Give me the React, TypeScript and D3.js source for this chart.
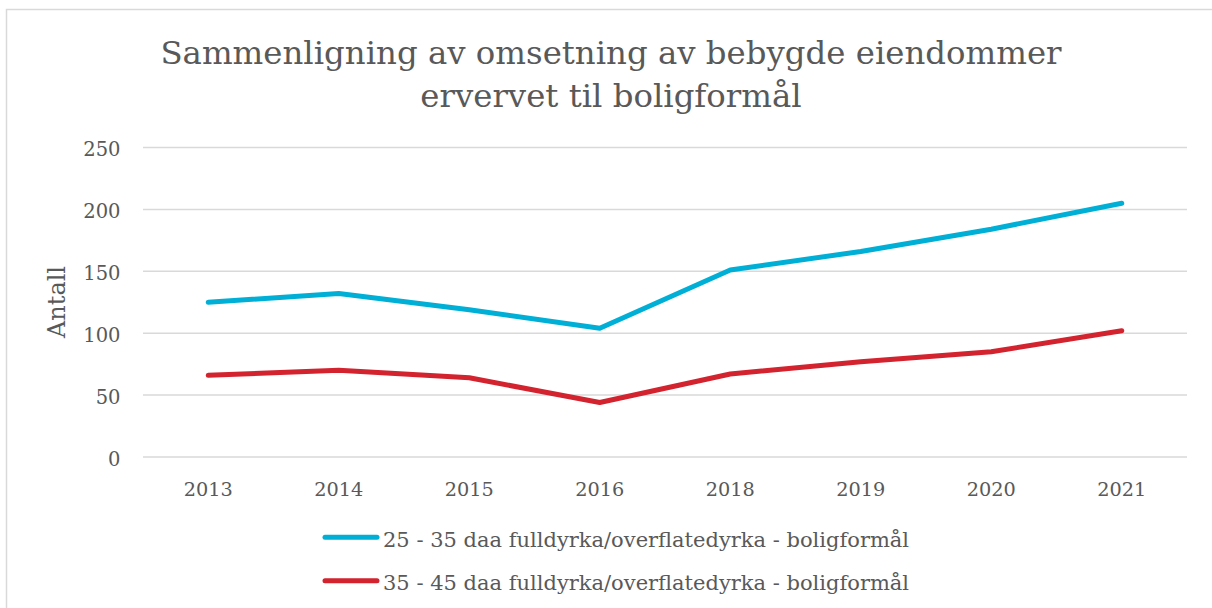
import React from "react";
import * as d3 from "d3";

const categories = ["2013", "2014", "2015", "2016", "2018", "2019", "2020", "2021"];
const series1 = [125, 132, 119, 104, 151, 166, 184, 205];
const series2 = [66, 70, 64, 44, 67, 77, 85, 102];
const seriesNames = [
  "25 - 35 daa fulldyrka/overflatedyrka - boligformål",
  "35 - 45 daa fulldyrka/overflatedyrka - boligformål",
];
const yTicks = [0, 50, 100, 150, 200, 250];
const titleLines = ["Sammenligning av omsetning av bebygde eiendommer", "ervervet til boligformål"];
const yAxisTitle = "Antall";

const W = 1212;
const H = 608;
const FONT = "'DejaVu Serif', serif";
const TEXT = "#595959";
const COLORS = ["#00AFD6", "#D2232F"];

export default function App() {
  const x = d3.scaleBand<string>().domain(categories).range([143, 1187]);
  const y = d3.scaleLinear().domain([0, 250]).range([457, 147.5]);
  const line = d3
    .line<number>()
    .x((_, i) => (x(categories[i]) as number) + x.bandwidth() / 2)
    .y((d) => y(d));
  const allSeries = [series1, series2];
  const legendY = [537.3, 580.7];

  return (
    <svg
      width={W}
      height={H}
      style={{ position: "absolute", left: 0, top: 0, background: "#fff" }}
      fontFamily={FONT}
    >
      <rect x={6.5} y={9.5} width={1220} height={620} fill="#fff" stroke="#d9d9d9" strokeWidth={1.5} />
      {titleLines.map((t, i) => (
        <text key={i} x={611} y={63.5 + i * 43} textAnchor="middle" fontSize={32.4} fill={TEXT}>
          {t}
        </text>
      ))}
      {yTicks.map((t) => (
        <g key={t}>
          <line x1={143} x2={1187} y1={y(t)} y2={y(t)} stroke="#d9d9d9" strokeWidth={1.5} />
          <text x={120.5} y={y(t) + 8.5} textAnchor="end" fontSize={19.5} fill={TEXT}>
            {t}
          </text>
        </g>
      ))}
      {categories.map((c) => (
        <text
          key={c}
          x={(x(c) as number) + x.bandwidth() / 2}
          y={496}
          textAnchor="middle"
          fontSize={19.3}
          fill={TEXT}
        >
          {c}
        </text>
      ))}
      <text
        transform={`translate(65,302) rotate(-90)`}
        textAnchor="middle"
        fontSize={24}
        fill={TEXT}
      >
        {yAxisTitle}
      </text>
      {allSeries.map((s, i) => (
        <path
          key={i}
          d={line(s) as string}
          fill="none"
          stroke={COLORS[i]}
          strokeWidth={5}
          strokeLinecap="round"
          strokeLinejoin="round"
        />
      ))}
      {seriesNames.map((n, i) => (
        <g key={n}>
          <line x1={325} x2={377} y1={legendY[i]} y2={legendY[i]} stroke={COLORS[i]} strokeWidth={5} strokeLinecap="round" />
          <text x={383} y={legendY[i] + 9.5} fontSize={21} fill={TEXT}>
            {n}
          </text>
        </g>
      ))}
    </svg>
  );
}
